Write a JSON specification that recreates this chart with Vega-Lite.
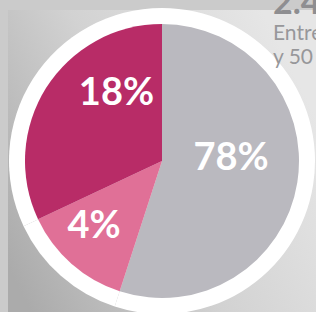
{
  "$schema": "https://vega.github.io/schema/vega-lite/v6.json",
  "autosize": "none",
  "width": 308,
  "height": 302,
  "padding": {"left": 8, "top": 10, "right": 0, "bottom": 0},
  "background": "#cbcbcb",
  "view": {
    "stroke": null,
    "fill": {
      "gradient": "linear",
      "x1": 0, "y1": 0.85,
      "x2": 1, "y2": 0.35,
      "stops": [
        {"offset": 0, "color": "#ababab"},
        {"offset": 0.5, "color": "#d2d2d2"},
        {"offset": 1, "color": "#e6e6e6"}
      ]
    }
  },
  "title": {
    "text": "2.4",
    "subtitle": ["Entre", "y 50"],
    "anchor": "start",
    "frame": "group",
    "orient": "top",
    "offset": 0,
    "dx": 265,
    "dy": 60,
    "font": "Lato",
    "fontSize": 34,
    "fontWeight": "bold",
    "color": "#8e8e91",
    "subtitleFont": "Lato",
    "subtitleFontSize": 21,
    "subtitleColor": "#97979a",
    "subtitleLineHeight": 24,
    "subtitlePadding": 2
  },
  "data": {
    "values": [
      {"label": "78%", "share": 55, "rank": 1},
      {"label": "4%", "share": 13, "rank": 2},
      {"label": "18%", "share": 32, "rank": 3}
    ]
  },
  "encoding": {
    "theta": {"field": "share", "type": "quantitative", "stack": true},
    "order": {"field": "rank", "type": "quantitative"}
  },
  "layer": [
    {
      "mark": {"type": "arc", "radius": 153, "color": "#ffffff"}
    },
    {
      "mark": {"type": "arc", "radius": 137},
      "encoding": {
        "color": {
          "field": "label",
          "type": "nominal",
          "scale": {"domain": ["78%", "4%", "18%"], "range": ["#bab9bf", "#e07097", "#b82c67"]},
          "legend": null
        }
      }
    },
    {
      "mark": {"type": "text", "radius": 70, "dy": -13, "font": "Lato", "fontSize": 38, "fontWeight": "bold", "color": "#ffffff", "align": "center", "baseline": "middle"},
      "encoding": {
        "text": {"condition": {"test": "datum.label === '78%'", "field": "label"}, "value": ""}
      }
    },
    {
      "mark": {"type": "text", "radius": 95, "dx": -5, "dy": -5, "font": "Lato", "fontSize": 38, "fontWeight": "bold", "color": "#ffffff", "align": "center", "baseline": "middle"},
      "encoding": {
        "text": {"condition": {"test": "datum.label === '4%'", "field": "label"}, "value": ""}
      }
    },
    {
      "mark": {"type": "text", "radius": 80, "dx": 22, "dy": -24, "font": "Lato", "fontSize": 38, "fontWeight": "bold", "color": "#ffffff", "align": "center", "baseline": "middle"},
      "encoding": {
        "text": {"condition": {"test": "datum.label === '18%'", "field": "label"}, "value": ""}
      }
    }
  ]
}
